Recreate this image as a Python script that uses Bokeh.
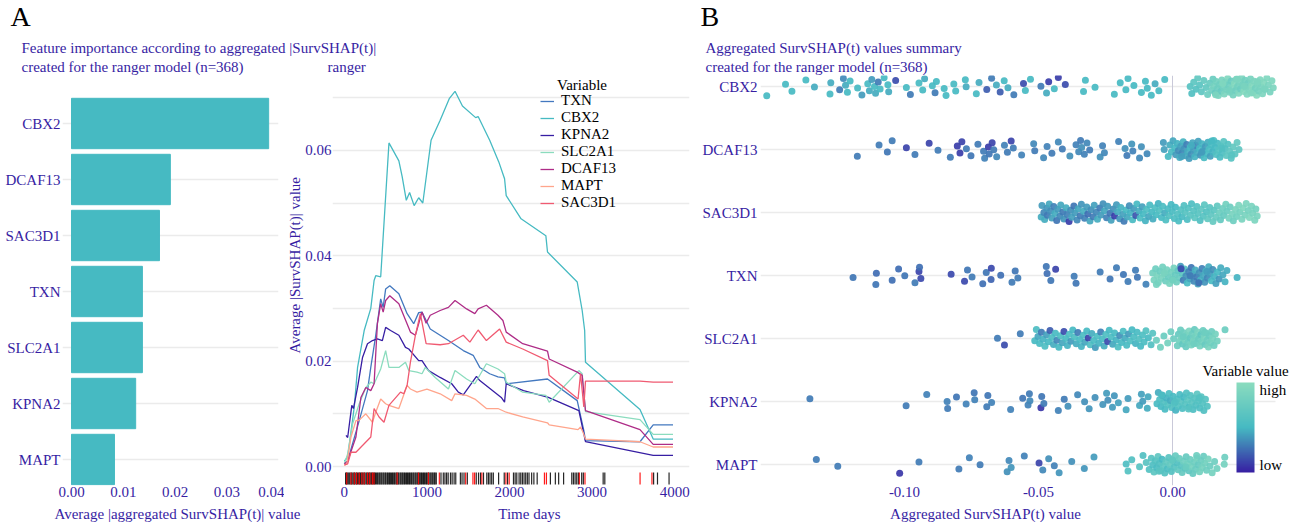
import math
from bokeh.plotting import figure
from bokeh.layouts import row, column
from bokeh.models import (Range1d, FixedTicker, NumeralTickFormatter, Label, Legend, LegendItem,
                          Span, ColumnDataSource, LinearColorMapper, ColorBar, Title)
from bokeh.transform import linear_cmap
from bokeh.embed import file_html
from bokeh.resources import INLINE

# ======================= DATA =======================
features = ["CBX2", "DCAF13", "SAC3D1", "TXN", "SLC2A1", "KPNA2", "MAPT"]
importance = [0.0381, 0.0191, 0.0170, 0.0137, 0.0137, 0.0124, 0.0083]

imp_ticks = [0.00, 0.01, 0.02, 0.03, 0.04]
time_ticks = [0, 1000, 2000, 3000, 4000]
avg_ticks = [0.00, 0.02, 0.04, 0.06]
avg_minor = [0.01, 0.03, 0.05, 0.07]
shap_ticks = [-0.10, -0.05, 0.00]

legend_order = ["TXN", "CBX2", "KPNA2", "SLC2A1", "DCAF13", "MAPT", "SAC3D1"]

t_txn = [0, 40, 180, 280, 320, 380, 440, 470, 500, 550, 660, 760, 840, 900, 940, 1040, 1260, 1440, 1560,
         1640, 1760, 1860, 1940, 1960, 2460, 2820, 2900, 2920, 3580, 3740, 3980]
v_txn = [0.0005, 0.0011, 0.0087, 0.0144, 0.0188, 0.0249, 0.0318, 0.0302, 0.0337, 0.0343, 0.0328, 0.0290,
         0.0271, 0.0292, 0.0293, 0.0261, 0.0239, 0.0220, 0.0211, 0.0188, 0.0176, 0.0170, 0.0168, 0.0157,
         0.0166, 0.0125, 0.0068, 0.0049, 0.0047, 0.0079, 0.0079]

t_cbx2 = [0, 40, 120, 160, 240, 320, 360, 380, 440, 540, 660, 700, 750, 790, 845, 900, 950, 1050, 1160,
          1270, 1340, 1430, 1590, 1620, 1760, 1870, 1940, 1960, 2140, 2440, 2460, 2820, 2880, 2910, 2920,
          3580, 3740, 3980]
v_cbx2 = [0.0010, 0.0018, 0.0113, 0.0188, 0.0258, 0.0300, 0.0353, 0.0362, 0.0360, 0.0614, 0.0580, 0.0550,
          0.0505, 0.0520, 0.0495, 0.0510, 0.0500, 0.0619, 0.0657, 0.0698, 0.0712, 0.0684, 0.0662, 0.0664,
          0.0619, 0.0578, 0.0546, 0.0514, 0.0470, 0.0438, 0.0407, 0.0350, 0.0296, 0.0258, 0.0198, 0.0108,
          0.0052, 0.0052]

t_kpna2 = [20, 40, 90, 110, 160, 220, 280, 340, 400, 460, 500, 560, 660, 740, 780, 900, 940, 1020, 1160,
           1300, 1380, 1440, 1600, 1640, 1900, 1940, 1960, 2170, 2470, 2840, 2920, 3740, 3980]
v_kpna2 = [0.0059, 0.0055, 0.0116, 0.0110, 0.0150, 0.0207, 0.0233, 0.0239, 0.0242, 0.0239, 0.0264, 0.0258,
           0.0249, 0.0226, 0.0223, 0.0201, 0.0201, 0.0182, 0.0169, 0.0157, 0.0141, 0.0136, 0.0171, 0.0163,
           0.0131, 0.0122, 0.0157, 0.0144, 0.0131, 0.0106, 0.0047, 0.0021, 0.0021]

t_slc2a1 = [0, 40, 100, 180, 260, 320, 360, 440, 500, 540, 660, 740, 780, 880, 940, 980, 1100, 1260, 1340,
            1480, 1580, 1720, 1860, 1940, 1960, 2160, 2440, 2480, 2840, 2880, 2920, 3580, 3740, 3980]
v_slc2a1 = [0.0005, 0.0024, 0.0081, 0.0119, 0.0150, 0.0160, 0.0157, 0.0185, 0.0220, 0.0188, 0.0188, 0.0198,
            0.0182, 0.0179, 0.0176, 0.0188, 0.0169, 0.0147, 0.0182, 0.0166, 0.0157, 0.0195, 0.0185, 0.0176,
            0.0160, 0.0141, 0.0135, 0.0122, 0.0182, 0.0176, 0.0104, 0.0089, 0.0061, 0.0061]

t_dcaf13 = [0, 40, 140, 200, 260, 320, 360, 400, 440, 470, 500, 550, 660, 800, 860, 940, 990, 1040, 1160,
            1260, 1340, 1480, 1580, 1620, 1720, 1860, 1920, 1960, 2160, 2460, 2480, 2820, 2880, 2920, 3580,
            3740, 3980]
v_dcaf13 = [0.0005, 0.0010, 0.0056, 0.0131, 0.0150, 0.0144, 0.0157, 0.0271, 0.0309, 0.0293, 0.0315, 0.0324,
            0.0309, 0.0255, 0.0249, 0.0293, 0.0272, 0.0287, 0.0296, 0.0302, 0.0315, 0.0299, 0.0290, 0.0299,
            0.0306, 0.0287, 0.0277, 0.0255, 0.0233, 0.0219, 0.0204, 0.0179, 0.0173, 0.0106, 0.0070, 0.0042,
            0.0042]

t_mapt = [0, 30, 80, 140, 180, 260, 340, 380, 440, 500, 540, 660, 760, 800, 880, 1000, 1160, 1300, 1340,
          1480, 1580, 1720, 1860, 1960, 2160, 2460, 2480, 2830, 2860, 2890, 2920, 3580, 3740, 3980]
v_mapt = [0.0002, 0.0005, 0.0056, 0.0087, 0.0088, 0.0100, 0.0084, 0.0103, 0.0128, 0.0119, 0.0116, 0.0110,
          0.0154, 0.0147, 0.0141, 0.0147, 0.0138, 0.0125, 0.0138, 0.0135, 0.0128, 0.0110, 0.0110, 0.0103,
          0.0094, 0.0083, 0.0079, 0.0070, 0.0075, 0.0065, 0.0052, 0.0047, 0.0037, 0.0037]

t_sac3d1 = [0, 40, 80, 140, 320, 360, 420, 480, 540, 680, 720, 760, 800, 860, 920, 990, 1160, 1260, 1440,
            1520, 1620, 1720, 1880, 1960, 2160, 2460, 2480, 2830, 2860, 2900, 2920, 3580, 3740, 3980]
v_sac3d1 = [0.0003, 0.0005, 0.0027, 0.0027, 0.0056, 0.0110, 0.0094, 0.0084, 0.0116, 0.0141, 0.0138, 0.0154,
            0.0198, 0.0249, 0.0290, 0.0233, 0.0231, 0.0233, 0.0249, 0.0236, 0.0259, 0.0239, 0.0261, 0.0236,
            0.0223, 0.0201, 0.0173, 0.0128, 0.0176, 0.0113, 0.0162, 0.0162, 0.0160, 0.0160]

# observed times (rug): censored (black) and events (red)
rug_censored = [15, 27, 41, 54, 66, 82, 93, 107, 121, 131, 147, 158, 173, 186, 197, 211, 223, 237, 248, 263,
                274, 289, 301, 313, 327, 338, 353, 366, 377, 391, 403, 418, 429, 443, 454, 469, 480, 495, 505,
                521, 532, 547, 557, 572, 584, 598, 609, 624, 635, 650, 660, 676, 687, 701, 712, 727, 738,
                753, 764, 779, 789, 804, 815, 830, 841, 856, 867, 881, 892, 907, 919, 933, 944, 959, 969,
                985, 996, 1011, 1022, 1037, 1049, 1063, 1074, 1089, 1099, 1113,
                1170, 1198, 1218, 1238, 1257, 1285, 1305, 1329, 1349, 1405, 1425, 1449, 1489, 1597, 1625,
                1649, 1685, 1725, 1745, 1764, 1784, 1804, 1868, 1936, 1976, 2048, 2068, 2088, 2116, 2136,
                2156, 2176, 2196, 2216, 2236, 2268, 2295, 2335, 2495, 2555, 2595, 2655, 2754, 2774, 2794,
                2814, 2834, 2874, 2894, 3134, 3154, 3745, 3792, 3932]
rug_events = [28, 80, 120, 148, 180, 212, 240, 280, 307, 339, 359, 639, 898, 1018, 1150, 1469, 1557, 1577,
              1665, 1956, 1996, 2423, 2447, 2846, 2914, 3581, 3725]

# aggregated SurvSHAP(t) value and scaled variable value (0 = low, 1 = high) per observation
sw_cbx2 = [(-0.1514, .50), (-0.1444, .50), (-0.1420, .50), (-0.1368, .50), (-0.1336, .45), (-0.1278, .50),
           (-0.1275, .45), (-0.1242, .30), (-0.1228, .35), (-0.1220, .45), (-0.1213, .50), (-0.1203, .50),
           (-0.1175, .50), (-0.1159, .40), (-0.1137, .50), (-0.1131, .45), (-0.1122, .40), (-0.1112, .50),
           (-0.1108, .45), (-0.1098, .30), (-0.1091, .50), (-0.1076, .50), (-0.1062, .50), (-0.1059, .45),
           (-0.1033, .15), (-0.0993, .50), (-0.0978, .30), (-0.0946, .50), (-0.0932, .50), (-0.0925, .45),
           (-0.0896, .50), (-0.0886, .30), (-0.0881, .50), (-0.0852, .50), (-0.0845, .50), (-0.0816, .50),
           (-0.0809, .50), (-0.0773, .50), (-0.0770, .45), (-0.0732, .50), (-0.0722, .45), (-0.0693, .20),
           (-0.0675, .30), (-0.0657, .45), (-0.0643, .20), (-0.0628, .50), (-0.0614, .45), (-0.0592, .30),
           (-0.0556, .15), (-0.0549, .50), (-0.0530, .50), (-0.0491, .30), (-0.0470, .45), (-0.0462, .10),
           (-0.0441, .50), (-0.0426, .10), (-0.0400, .15), (-0.0332, .50), (-0.0325, .50), (-0.0289, .50),
           (-0.0217, .50), (-0.0195, .50), (-0.0174, .50), (-0.0166, .50), (-0.0144, .50), (-0.0116, .50),
           (-0.0101, .50), (-0.0094, .50), (-0.0079, .50), (-0.0065, .45), (-0.0051, .50), (-0.0029, .50),
           (0.0066, .62), (0.0072, .58), (0.0079, .66), (0.0088, .60), (0.0094, .70), (0.0101, .64),
           (0.0108, .68), (0.0117, .72), (0.0125, .70), (0.0131, .78), (0.0139, .74), (0.0146, .80),
           (0.0151, .76), (0.0154, .84), (0.0159, .72), (0.0163, .82), (0.0168, .78), (0.0171, .88),
           (0.0176, .80), (0.0181, .74), (0.0184, .86), (0.0189, .82), (0.0193, .90), (0.0197, .78),
           (0.0202, .84), (0.0206, .92), (0.0209, .80), (0.0214, .86), (0.0219, .76), (0.0223, .90),
           (0.0226, .84), (0.0231, .94), (0.0235, .80), (0.0238, .88), (0.0243, .82), (0.0247, .92),
           (0.0251, .86), (0.0254, .78), (0.0258, .90), (0.0262, .84), (0.0266, .95), (0.0271, .82),
           (0.0274, .88), (0.0278, .92), (0.0283, .80), (0.0287, .90), (0.0291, .86), (0.0296, .94),
           (0.0301, .84), (0.0305, .90), (0.0309, .82), (0.0314, .96), (0.0318, .88), (0.0322, .84),
           (0.0327, .92), (0.0331, .86), (0.0336, .90), (0.0341, .94), (0.0346, .84), (0.0352, .92),
           (0.0358, .88), (0.0364, .86), (0.0371, .92), (0.0376, .90), (0.0161, .88), (0.0188, .92),
           (0.0212, .84), (0.0241, .90), (0.0268, .86), (0.0293, .92), (0.0317, .90), (0.0343, .88)]

sw_dcaf13 = [(-0.1176, .30), (-0.1095, .30), (-0.1064, .28), (-0.1046, .30), (-0.0993, .12), (-0.0961, .30),
             (-0.0908, .12), (-0.0875, .30), (-0.0829, .30), (-0.0803, .10), (-0.0793, .10), (-0.0786, .12),
             (-0.0769, .30), (-0.0752, .28), (-0.0726, .30), (-0.0705, .30), (-0.0701, .32), (-0.0687, .10),
             (-0.0684, .28), (-0.0673, .12), (-0.0667, .30), (-0.0656, .34), (-0.0627, .32), (-0.0616, .30),
             (-0.0602, .12), (-0.0594, .30), (-0.0563, .32), (-0.0518, .34), (-0.0514, .30), (-0.0481, .34),
             (-0.0468, .32), (-0.0450, .30), (-0.0426, .34), (-0.0411, .30), (-0.0383, .36), (-0.0360, .32),
             (-0.0350, .34), (-0.0343, .30), (-0.0339, .36), (-0.0329, .32), (-0.0319, .34), (-0.0309, .30),
             (-0.0270, .36), (-0.0261, .32), (-0.0254, .34), (-0.0201, .32), (-0.0177, .36), (-0.0170, .30),
             (-0.0152, .38), (-0.0148, .32), (-0.0123, .34), (-0.0116, .36), (-0.0095, .34), (-0.0034, .40),
             (-0.0031, .42),
             (-0.0016, .50), (-0.0010, .46), (-0.0004, .52), (0.0002, .44), (0.0008, .50), (0.0013, .40),
             (0.0018, .48), (0.0022, .36), (0.0027, .46), (0.0031, .42), (0.0036, .34), (0.0040, .48),
             (0.0044, .38), (0.0049, .44), (0.0053, .32), (0.0057, .46), (0.0062, .40), (0.0066, .50),
             (0.0070, .36), (0.0075, .44), (0.0079, .40), (0.0083, .48), (0.0088, .34), (0.0092, .46),
             (0.0096, .42), (0.0101, .50), (0.0105, .38), (0.0110, .48), (0.0114, .44), (0.0118, .52),
             (0.0123, .40), (0.0127, .50), (0.0132, .46), (0.0136, .54), (0.0141, .42), (0.0145, .52),
             (0.0150, .48), (0.0154, .56), (0.0159, .50), (0.0163, .58), (0.0168, .52), (0.0172, .60),
             (0.0177, .54), (0.0181, .62), (0.0186, .56), (0.0191, .64), (0.0196, .58), (0.0201, .66),
             (0.0207, .60), (0.0213, .68), (0.0219, .62), (0.0226, .70), (0.0233, .66), (0.0241, .72),
             (0.0248, .68), (0.0034, .42), (0.0071, .46), (0.0109, .40), (0.0146, .50), (0.0184, .58),
             (0.0221, .64)]

sw_sac3d1 = [(-0.0490, .45), (-0.0487, .40), (-0.0480, .34), (-0.0477, .46), (-0.0469, .38), (-0.0467, .30),
             (-0.0460, .44), (-0.0455, .36), (-0.0450, .42), (-0.0443, .32), (-0.0439, .46), (-0.0432, .28),
             (-0.0428, .40), (-0.0420, .34), (-0.0417, .44), (-0.0409, .30), (-0.0405, .38), (-0.0397, .46),
             (-0.0393, .32), (-0.0386, .10), (-0.0380, .36), (-0.0376, .42), (-0.0368, .28), (-0.0364, .40),
             (-0.0356, .34), (-0.0352, .44), (-0.0344, .30), (-0.0340, .38), (-0.0332, .46), (-0.0328, .32),
             (-0.0320, .40), (-0.0316, .26), (-0.0308, .44), (-0.0304, .36), (-0.0296, .30), (-0.0292, .42),
             (-0.0284, .34), (-0.0280, .46), (-0.0271, .30), (-0.0267, .40), (-0.0259, .36), (-0.0254, .44),
             (-0.0246, .32), (-0.0242, .40), (-0.0233, .28), (-0.0229, .42), (-0.0221, .36), (-0.0216, .10),
             (-0.0209, .40), (-0.0205, .46), (-0.0197, .38), (-0.0193, .48), (-0.0185, .42), (-0.0181, .30),
             (-0.0173, .50), (-0.0169, .44), (-0.0161, .36), (-0.0157, .48), (-0.0149, .52), (-0.0145, .40),
             (-0.0137, .18), (-0.0133, .50), (-0.0125, .46), (-0.0121, .54), (-0.0113, .42), (-0.0109, .50),
             (-0.0101, .48), (-0.0097, .56), (-0.0089, .44), (-0.0085, .52), (-0.0077, .50), (-0.0073, .46),
             (-0.0065, .56), (-0.0061, .52), (-0.0053, .48), (-0.0049, .58), (-0.0041, .50), (-0.0037, .54),
             (-0.0029, .46), (-0.0025, .56), (-0.0017, .52), (-0.0013, .58), (-0.0005, .50), (-0.0001, .54),
             (0.0007, .56), (0.0011, .50), (0.0019, .58), (0.0023, .54), (0.0031, .60), (0.0035, .52),
             (0.0043, .58), (0.0047, .62), (0.0055, .55), (0.0059, .60), (0.0067, .64), (0.0071, .56),
             (0.0079, .62), (0.0083, .66), (0.0091, .60), (0.0095, .64), (0.0103, .58), (0.0107, .68),
             (0.0115, .62), (0.0119, .66), (0.0127, .60), (0.0131, .70), (0.0139, .64), (0.0143, .68),
             (0.0151, .72), (0.0155, .66), (0.0163, .74), (0.0167, .70), (0.0175, .78), (0.0179, .72),
             (0.0187, .80), (0.0191, .74), (0.0199, .82), (0.0203, .76), (0.0211, .84), (0.0215, .78),
             (0.0223, .86), (0.0227, .80), (0.0235, .88), (0.0239, .82), (0.0247, .90), (0.0251, .84),
             (0.0259, .88), (0.0263, .92), (0.0271, .86), (0.0275, .90), (0.0283, .84), (0.0287, .92),
             (0.0295, .88), (0.0299, .86), (0.0307, .90), (0.0311, .84), (0.0316, .88)]

sw_txn = [(-0.1192, .28), (-0.1107, .28), (-0.1105, .25), (-0.1046, .26), (-0.1022, .25), (-0.0999, .28),
          (-0.0961, .30), (-0.0946, .12), (-0.0939, .14), (-0.0944, .26), (-0.0826, .14), (-0.0776, .14),
          (-0.0765, .28), (-0.0748, .30), (-0.0708, .26), (-0.0695, .28), (-0.0677, .22), (-0.0676, .14),
          (-0.0641, .26), (-0.0599, .30), (-0.0587, .28), (-0.0577, .30), (-0.0471, .28), (-0.0468, .26),
          (-0.0454, .28), (-0.0436, .12), (-0.0367, .30), (-0.0360, .28), (-0.0270, .30), (-0.0233, .28),
          (-0.0209, .30), (-0.0183, .28), (-0.0166, .30), (-0.0138, .30), (-0.0131, .28), (-0.0099, .32),
          (-0.0074, .82), (-0.0069, .86), (-0.0063, .80), (-0.0058, .88), (-0.0053, .84), (-0.0047, .78),
          (-0.0042, .86), (-0.0037, .82), (-0.0031, .90), (-0.0026, .80), (-0.0021, .84), (-0.0016, .76),
          (-0.0011, .86), (-0.0005, .82), (0.0000, .78), (0.0005, .84), (0.0010, .74), (0.0015, .80),
          (0.0020, .70), (0.0025, .76), (0.0030, .40), (0.0035, .66), (0.0040, .30), (0.0045, .60),
          (0.0050, .36), (0.0055, .52), (0.0060, .32), (0.0065, .44), (0.0070, .28), (0.0075, .40),
          (0.0080, .34), (0.0085, .46), (0.0090, .30), (0.0095, .42), (0.0100, .36), (0.0105, .48),
          (0.0110, .32), (0.0115, .44), (0.0120, .38), (0.0125, .50), (0.0130, .34), (0.0135, .46),
          (0.0140, .40), (0.0145, .52), (0.0150, .36), (0.0156, .48), (0.0162, .42), (0.0168, .50),
          (0.0174, .38), (0.0180, .46), (0.0188, .44), (0.0196, .48), (0.0203, .46), (0.0241, .48),
          (-0.0060, .84), (-0.0030, .86), (0.0001, .82), (0.0032, .14), (0.0066, .30), (0.0098, .26),
          (0.0128, .40)]

sw_slc2a1 = [(-0.0653, .30), (-0.0627, .15), (-0.0568, .30),
             (-0.0514, .50), (-0.0508, .55), (-0.0502, .44), (-0.0496, .52), (-0.0489, .30), (-0.0483, .48),
             (-0.0476, .56), (-0.0470, .42), (-0.0463, .50), (-0.0457, .20), (-0.0450, .54), (-0.0444, .46),
             (-0.0437, .52), (-0.0431, .34), (-0.0424, .50), (-0.0418, .56), (-0.0411, .44), (-0.0405, .15),
             (-0.0398, .52), (-0.0392, .48), (-0.0385, .54), (-0.0379, .40), (-0.0372, .50), (-0.0366, .56),
             (-0.0359, .46), (-0.0353, .30), (-0.0346, .52), (-0.0340, .48), (-0.0333, .54), (-0.0327, .44),
             (-0.0320, .50), (-0.0314, .12), (-0.0307, .56), (-0.0301, .46), (-0.0294, .52), (-0.0288, .40),
             (-0.0281, .54), (-0.0275, .48), (-0.0268, .32), (-0.0262, .52), (-0.0255, .46), (-0.0249, .56),
             (-0.0242, .14), (-0.0236, .50), (-0.0229, .54), (-0.0223, .44), (-0.0216, .52), (-0.0210, .48),
             (-0.0203, .56), (-0.0197, .36), (-0.0190, .50), (-0.0184, .54), (-0.0177, .46), (-0.0171, .52),
             (-0.0164, .40), (-0.0158, .56), (-0.0151, .50), (-0.0145, .54), (-0.0138, .48), (-0.0132, .52),
             (-0.0125, .58), (-0.0119, .50), (-0.0112, .56), (-0.0106, .54), (-0.0099, .60), (-0.0090, .52),
             (-0.0080, .58), (-0.0074, .62),
             (-0.0060, .78), (-0.0045, .82), (-0.0032, .76), (-0.0018, .84), (-0.0006, .80), (0.0004, .78),
             (0.0018, .78), (0.0022, .72), (0.0026, .82), (0.0030, .76), (0.0034, .84), (0.0038, .70),
             (0.0042, .80), (0.0046, .86), (0.0050, .74), (0.0054, .82), (0.0058, .78), (0.0062, .88),
             (0.0066, .72), (0.0070, .84), (0.0074, .80), (0.0078, .86), (0.0082, .74), (0.0086, .82),
             (0.0090, .78), (0.0094, .88), (0.0098, .76), (0.0102, .84), (0.0106, .70), (0.0110, .82),
             (0.0114, .78), (0.0118, .86), (0.0122, .74), (0.0126, .84), (0.0130, .80), (0.0134, .88),
             (0.0138, .76), (0.0142, .82), (0.0146, .78), (0.0150, .86), (0.0155, .80), (0.0160, .84),
             (0.0167, .82), (0.0196, .78), (0.0040, .76), (0.0080, .80), (0.0120, .78)]

sw_kpna2 = [(-0.1353, .30), (-0.0994, .30), (-0.0917, .32), (-0.0841, .32), (-0.0839, .30), (-0.0806, .28),
            (-0.0770, .32), (-0.0740, .28), (-0.0738, .32), (-0.0693, .30), (-0.0689, .28), (-0.0675, .32),
            (-0.0604, .32), (-0.0559, .28), (-0.0539, .32), (-0.0534, .30), (-0.0532, .34), (-0.0491, .08),
            (-0.0488, .28), (-0.0480, .30), (-0.0426, .32), (-0.0404, .30), (-0.0390, .36), (-0.0354, .34),
            (-0.0328, .36), (-0.0311, .38), (-0.0289, .36), (-0.0260, .38), (-0.0246, .40), (-0.0241, .36),
            (-0.0224, .40), (-0.0217, .38), (-0.0202, .42), (-0.0173, .44), (-0.0166, .40), (-0.0123, .44),
            (-0.0116, .42), (-0.0111, .40), (-0.0094, .46), (-0.0091, .44),
            (-0.0058, .52), (-0.0053, .46), (-0.0048, .56), (-0.0043, .50), (-0.0038, .44), (-0.0033, .58),
            (-0.0028, .52), (-0.0023, .48), (-0.0018, .60), (-0.0013, .54), (-0.0008, .46), (-0.0003, .58),
            (0.0002, .52), (0.0007, .62), (0.0012, .48), (0.0017, .56), (0.0022, .60), (0.0027, .52),
            (0.0032, .64), (0.0037, .56), (0.0042, .50), (0.0047, .62), (0.0052, .58), (0.0057, .66),
            (0.0062, .54), (0.0067, .60), (0.0072, .64), (0.0077, .56), (0.0082, .62), (0.0087, .58),
            (0.0092, .66), (0.0097, .60), (0.0102, .56), (0.0107, .64), (0.0112, .60), (0.0117, .58),
            (0.0123, .62), (0.0130, .60), (-0.0040, .54), (0.0010, .58), (0.0060, .62), (0.0100, .60)]

sw_mapt = [(-0.1329, .30), (-0.1249, .30), (-0.1018, .08), (-0.0946, .30), (-0.0797, .30), (-0.0758, .32),
           (-0.0718, .30), (-0.0617, .36), (-0.0610, .34), (-0.0602, .38), (-0.0553, .32), (-0.0498, .12),
           (-0.0484, .34), (-0.0462, .36), (-0.0441, .32), (-0.0423, .38), (-0.0376, .36), (-0.0329, .38),
           (-0.0293, .40), (-0.0173, .56), (-0.0166, .60), (-0.0152, .58), (-0.0123, .62), (-0.0110, .58),
           (-0.0098, .64), (-0.0087, .60),
           (-0.0079, .62), (-0.0074, .56), (-0.0069, .66), (-0.0064, .60), (-0.0059, .54), (-0.0054, .68),
           (-0.0049, .58), (-0.0044, .62), (-0.0039, .52), (-0.0034, .66), (-0.0029, .60), (-0.0024, .70),
           (-0.0019, .56), (-0.0014, .64), (-0.0009, .72), (-0.0004, .60), (0.0001, .68), (0.0006, .62),
           (0.0011, .74), (0.0016, .58), (0.0021, .70), (0.0026, .76), (0.0031, .64), (0.0036, .72),
           (0.0041, .80), (0.0046, .66), (0.0051, .74), (0.0056, .82), (0.0061, .68), (0.0066, .78),
           (0.0071, .84), (0.0076, .72), (0.0081, .80), (0.0086, .76), (0.0091, .86), (0.0096, .74),
           (0.0101, .82), (0.0106, .78), (0.0111, .84), (0.0116, .76), (0.0121, .82), (0.0127, .80),
           (0.0133, .86), (0.0140, .78), (0.0148, .84), (0.0157, .80), (0.0166, .82), (0.0195, .80),
           (0.0193, .84), (-0.0050, .64), (0.0000, .70), (0.0050, .76), (0.0090, .80)]

# ======================= STYLE / LAYOUT =======================
FONT = "Liberation Serif"
INK = "#371ea3"
GRID = "#ebebeb"
BAR = "#46bac2"
FS = "15px"
line_colors = {"TXN": "#4378bf", "CBX2": "#46bac2", "KPNA2": "#371ea3", "SLC2A1": "#8bdcbe",
               "DCAF13": "#ae2c87", "MAPT": "#ffa58c", "SAC3D1": "#f05a71"}
series = {"TXN": (t_txn, v_txn), "CBX2": (t_cbx2, v_cbx2), "KPNA2": (t_kpna2, v_kpna2),
          "SLC2A1": (t_slc2a1, v_slc2a1), "DCAF13": (t_dcaf13, v_dcaf13), "MAPT": (t_mapt, v_mapt),
          "SAC3D1": (t_sac3d1, v_sac3d1)}
swarm = {"CBX2": sw_cbx2, "DCAF13": sw_dcaf13, "SAC3D1": sw_sac3d1, "TXN": sw_txn,
         "SLC2A1": sw_slc2a1, "KPNA2": sw_kpna2, "MAPT": sw_mapt}


def hex2rgb(h):
    return tuple(int(h[i:i + 2], 16) for i in (1, 3, 5))


anchors = [hex2rgb(c) for c in ("#371ea3", "#46bac2", "#8bdcbe")]
PALETTE = []
for i in range(256):
    tt = i / 255 * 2
    k = min(int(tt), 1)
    f = tt - k
    a, b = anchors[k], anchors[k + 1]
    PALETTE.append("#%02x%02x%02x" % tuple(round(a[j] + (b[j] - a[j]) * f) for j in range(3)))

W = 1295
HEAD = 75                   # header strip (titles) height
FOOT = 19                   # footer strip (axis titles) height
TOP, BOT = HEAD, 485        # frame top / bottom in page pixels
ROW_H = 522 - HEAD - FOOT
C1 = (0, 284)
C2 = (284, 690)
C3 = (690, 1295)
F1 = (62, 278)
F2 = (328, 689)
F3 = (760, 1290)
X1 = (-0.00174, 0.040)
Y1 = (1 - (BOT - 459) / 56, 7 + (123 - TOP) / 56)
X2 = (-143.7, 4179.6)
Y2 = (-(BOT - 466) / 5270, (466 - TOP) / 5270)
X3 = ((760 - 1172) / 2680, (1290 - 1172) / 2680)
Y3 = (1 - (BOT - 464) / 63, 7 + (86 - TOP) / 63)
SHAP_GRID_END = (1275 - 1172) / 2680


def mapper(F, X, Y):
    L, R = F

    def f(px, py):
        return (X[0] + (px - L) / (R - L) * (X[1] - X[0]),
                Y[1] - (py - TOP) / (BOT - TOP) * (Y[1] - Y[0]))
    return f


def make_fig(C, F, X, Y):
    p = figure(width=C[1] - C[0], height=ROW_H, x_range=Range1d(*X), y_range=Range1d(*Y),
               output_backend="svg", toolbar_location=None,
               min_border_left=F[0] - C[0], min_border_right=C[1] - F[1],
               min_border_top=0, min_border_bottom=HEAD + ROW_H - BOT)
    p.title.visible = False
    p.outline_line_color = None
    p.background_fill_color = "white"
    p.border_fill_color = "white"
    for ax in (p.xaxis[0], p.yaxis[0]):
        ax.axis_line_color = None
        ax.major_tick_line_color = None
        ax.minor_tick_line_color = None
        ax.major_tick_out = 0
        ax.major_tick_in = 0
        ax.minor_tick_out = 0
        ax.minor_tick_in = 0
        ax.major_label_text_font = FONT
        ax.major_label_text_font_size = FS
        ax.major_label_text_color = INK
    p.xgrid.visible = False
    p.ygrid.grid_line_color = GRID
    p.ygrid.grid_line_width = 1.6
    return p


def make_strip(height, y_top):
    p = figure(width=W, height=height, x_range=Range1d(0, W), y_range=Range1d(y_top + height, y_top),
               output_backend="svg", toolbar_location=None, x_axis_location=None, y_axis_location=None,
               min_border=0, min_border_left=0, min_border_right=0, min_border_top=0, min_border_bottom=0)
    p.title.visible = False
    p.outline_line_color = None
    p.background_fill_color = "white"
    p.border_fill_color = "white"
    for g in p.grid:
        g.visible = False
    return p


def add_label(p, m, px, py, text, align="left", color=INK, size=FS):
    x, y = m(px, py)
    p.add_layout(Label(x=x, y=y, text=text, text_font=FONT, text_font_size=size, text_color=color,
                       text_align=align, text_baseline="middle"))


def ident(px, py):
    return px, py


def jitter(n, seed):
    return [((k * 0.6180339887 + seed) % 1.0 - 0.5) * 0.29 for k in range(n)]


rows = {name: 7 - i for i, name in enumerate(features)}

# ---------------- header / footer strips (panel titles, axis titles) ----------------
head = make_strip(HEAD, 0)
add_label(head, ident, 10, 16, "A", color="black", size="28px")
add_label(head, ident, 21, 47, "Feature importance according to aggregated |SurvSHAP(t)|")
add_label(head, ident, 21, 66, "created for the ranger model (n=368)")
add_label(head, ident, 327, 66, "ranger")
add_label(head, ident, 700, 16, "B", color="black", size="28px")
add_label(head, ident, 705, 47, "Aggregated SurvSHAP(t) values summary")
add_label(head, ident, 705, 66, "created for the ranger model (n=368)")

foot = make_strip(FOOT, 522 - FOOT)
add_label(foot, ident, 177, 513, "Average |aggregated SurvSHAP(t)| value", align="center")
add_label(foot, ident, 529, 513, "Time days", align="center")
add_label(foot, ident, 985, 513, "Aggregated SurvSHAP(t) value", align="center")

# ---------------- panel A: bar chart ----------------
p1 = make_fig(C1, F1, X1, Y1)
p1.hbar(y=[rows[n] for n in features], right=importance, left=0, height=0.9, color=BAR)
p1.xaxis.ticker = FixedTicker(ticks=imp_ticks)
p1.xaxis.formatter = NumeralTickFormatter(format="0.00")
p1.xaxis.major_label_standoff = 1
p1.yaxis.ticker = FixedTicker(ticks=[rows[n] for n in features])
p1.yaxis.major_label_overrides = {rows[n]: n for n in features}
p1.yaxis.major_label_standoff = 2

# ---------------- panel A: time-dependent lines ----------------
m2 = mapper(F2, X2, Y2)
p2 = make_fig(C2, F2, X2, Y2)
p2.xaxis.ticker = FixedTicker(ticks=time_ticks)
p2.xaxis.major_label_standoff = 1
p2.yaxis.ticker = FixedTicker(ticks=avg_ticks, minor_ticks=avg_minor)
p2.yaxis.formatter = NumeralTickFormatter(format="0.00")
p2.yaxis.major_label_standoff = 1
p2.ygrid.minor_grid_line_color = GRID
p2.ygrid.minor_grid_line_width = 1.6

rug_lo = m2(0, 484)[1]
rug_hi = m2(0, 472)[1]
p2.segment(x0=rug_censored, x1=rug_censored, y0=[rug_lo] * len(rug_censored), y1=[rug_hi] * len(rug_censored),
           line_color="black", line_width=1.2, line_alpha=0.85)
p2.segment(x0=rug_events, x1=rug_events, y0=[rug_lo] * len(rug_events), y1=[rug_hi] * len(rug_events),
           line_color="red", line_width=1.2, line_alpha=0.9)

items = []
for name in legend_order:
    t, v = series[name]
    r = p2.line(t, v, line_color=line_colors[name], line_width=1.3)
    items.append(LegendItem(label=name, renderers=[r]))
legend = Legend(items=items, location=(208, BOT - 211), orientation="vertical",
                label_text_font=FONT, label_text_font_size=FS, label_text_color="black",
                glyph_width=14, glyph_height=16, label_height=16, spacing=0, padding=0, margin=0,
                label_standoff=7, border_line_color=None, background_fill_alpha=0)
p2.add_layout(legend)
p2.add_layout(Title(text="Average |SurvSHAP(t)| value", align="left", offset=BOT - 353, standoff=0,
                    text_font=FONT, text_font_size=FS, text_color=INK, text_font_style="normal"), "left")
add_label(p2, m2, 555, 84, "Variable", color="black")

# ---------------- panel B: beeswarm ----------------
m3 = mapper(F3, X3, Y3)
p3 = make_fig(C3, F3, X3, Y3)
p3.ygrid.visible = False
p3.xaxis.ticker = FixedTicker(ticks=shap_ticks)
p3.xaxis.formatter = NumeralTickFormatter(format="0.00")
p3.xaxis.major_label_standoff = 1
p3.yaxis.ticker = FixedTicker(ticks=[rows[n] for n in features])
p3.yaxis.major_label_overrides = {rows[n]: n for n in features}
p3.yaxis.major_label_standoff = 3
row_pos = [rows[n] for n in features]
p3.segment(x0=[X3[0]] * 7, x1=[SHAP_GRID_END] * 7, y0=row_pos, y1=row_pos,
           line_color=GRID, line_width=1.6, level="underlay")
p3.add_layout(Span(location=0, dimension="height", line_color="#c9c9d9", line_width=1, level="underlay"))

for idx, name in enumerate(features):
    pts = swarm[name]
    jit = jitter(len(pts), 0.13 * idx)
    src = ColumnDataSource(dict(x=[q[0] for q in pts], y=[rows[name] + j for j in jit],
                                c=[q[1] for q in pts]))
    p3.scatter("x", "y", source=src, size=7, line_color=None, fill_alpha=0.92,
               fill_color=linear_cmap("c", PALETTE, 0, 1))

cmap = LinearColorMapper(palette=PALETTE, low=0, high=100)
cbar = ColorBar(color_mapper=cmap, location=(1236 - F3[0], BOT - 472), width=18, height=90, padding=0,
                margin=0, ticker=FixedTicker(ticks=[8, 92]), major_label_overrides={8: "low", 92: "high"},
                major_label_text_font=FONT, major_label_text_font_size=FS, major_label_text_color="black",
                label_standoff=5, major_tick_line_color=None, bar_line_color=None,
                background_fill_alpha=0, border_line_color=None)
p3.add_layout(cbar)
add_label(p3, m3, 1245, 370, "Variable value", align="center", color="black")

layout = column(head, row(p1, p2, p3, spacing=0), foot, spacing=0)
open("out.html", "w").write(file_html(layout, INLINE))
